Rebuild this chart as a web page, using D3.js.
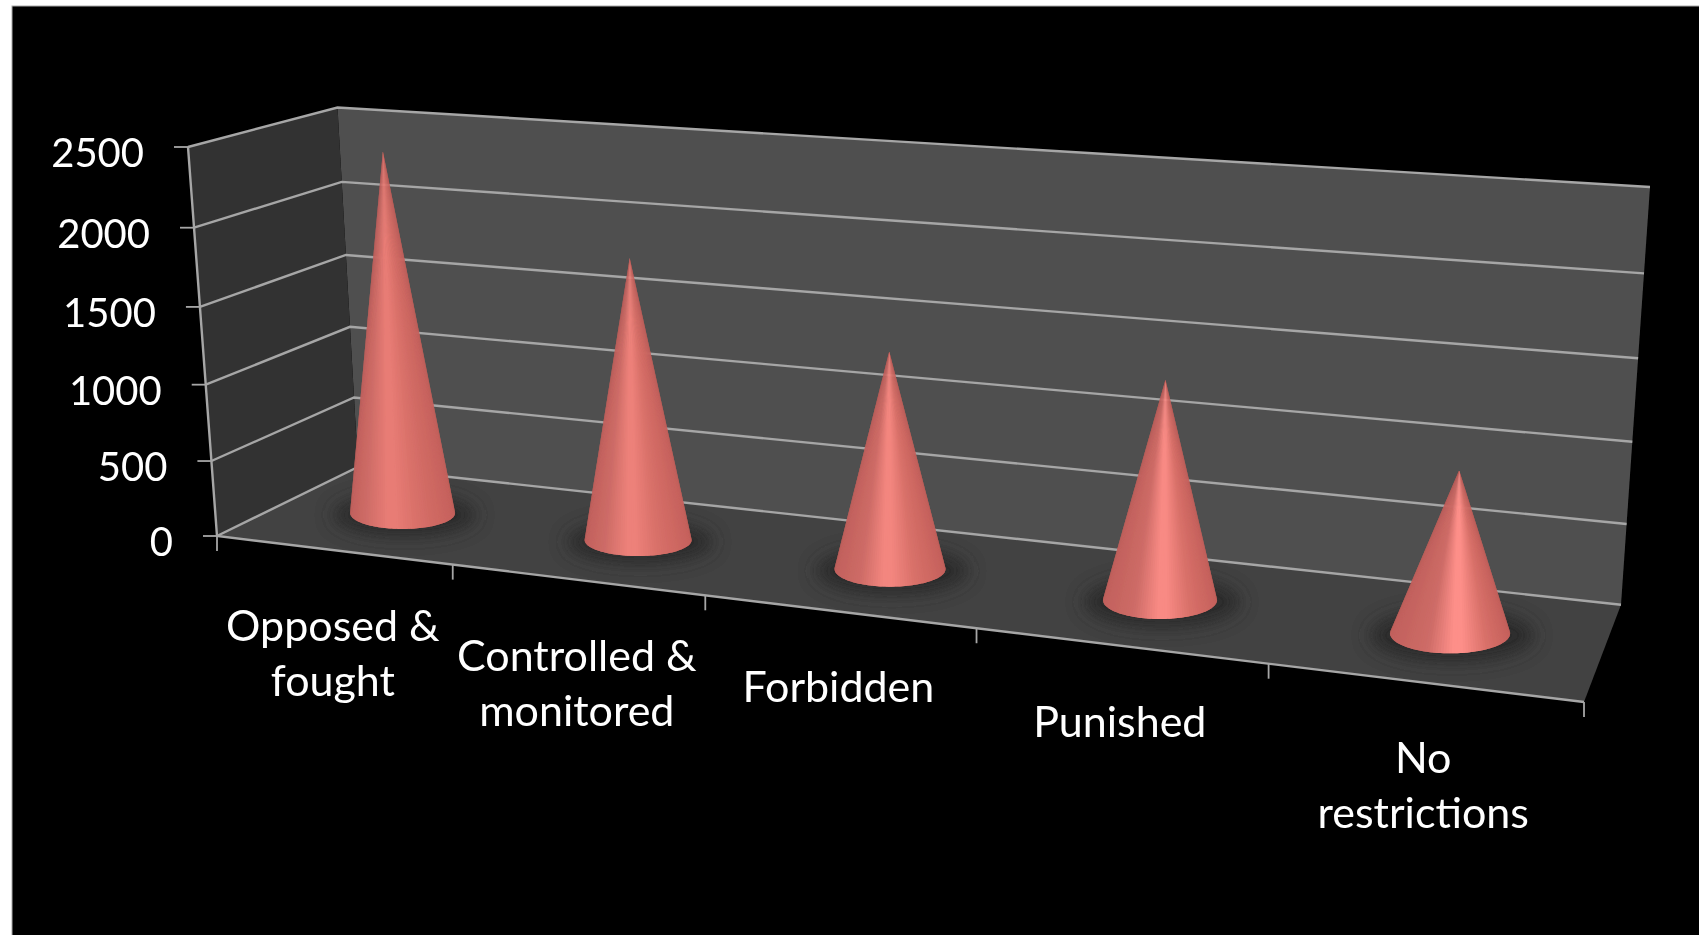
<!DOCTYPE html>
<html>
<head>
<meta charset="utf-8">
<style>
  html, body { margin: 0; padding: 0; background: #fff; overflow: hidden; }
  text { font-family: Lato, "Open Sans", sans-serif; fill: #fff; }
</style>
<script src="https://cdn.jsdelivr.net/npm/d3@7"></script>
</head>
<body>
<script>
const categories = ["Opposed & fought", "Controlled & monitored", "Forbidden", "Punished", "No restrictions"];
const categoryLines = [["Opposed &", "fought"], ["Controlled &", "monitored"], ["Forbidden"], ["Punished"], ["No", "restrictions"]];
const values = [2385, 1820, 1370, 1345, 970];
const valueTicks = [0, 500, 1000, 1500, 2000, 2500];

const width = 1699;
const height = 935;

// corners of the box as it is seen on the picture
const frontBottomLeft = [217, 536];
const frontBottomRight = [1584, 702];
const frontTopLeft = [188, 147];
const frontTopRight = [1618, 240];
const backBottomLeft = [358, 467];
const backBottomRight = [1621, 604.8];
const backTopLeft = [337.5, 107.5];
const backTopRight = [1650, 187];

// maps the unit square onto four picture points
function homography(p0, p1, p2, p3) {
  const dx1 = p1[0] - p2[0], dx2 = p3[0] - p2[0], sx = p0[0] - p1[0] + p2[0] - p3[0];
  const dy1 = p1[1] - p2[1], dy2 = p3[1] - p2[1], sy = p0[1] - p1[1] + p2[1] - p3[1];
  const den = dx1 * dy2 - dx2 * dy1;
  const g = (sx * dy2 - dx2 * sy) / den;
  const h = (dx1 * sy - sx * dy1) / den;
  const a = p1[0] - p0[0] + g * p1[0], b = p3[0] - p0[0] + h * p3[0];
  const d = p1[1] - p0[1] + g * p1[1], e = p3[1] - p0[1] + h * p3[1];
  return (u, v) => {
    const w = g * u + h * v + 1;
    return [(a * u + b * v + p0[0]) / w, (d * u + e * v + p0[1]) / w];
  };
}

const backWall = homography(backBottomLeft, backBottomRight, backTopRight, backTopLeft);
const frontPlane = homography(frontBottomLeft, frontBottomRight, frontTopRight, frontTopLeft);
const sideWall = homography(frontBottomLeft, backBottomLeft, backTopLeft, frontTopLeft);
const floor = homography(frontBottomLeft, frontBottomRight, backBottomRight, backBottomLeft);

const x = d3.scaleBand().domain(categories).range([0, 1]);
const y = d3.scaleLinear().domain([0, 2500]).range([0, 1]);

const radiusX = d3.scaleLinear().domain([0, 1, 2, 3, 4]).range([52.5, 53.5, 55.5, 57, 60]);
const radiusY = d3.scaleLinear().domain([0, 1, 2, 3, 4]).range([16, 16, 17.7, 19, 20]);
const peakPos = d3.scaleLinear().domain([0, 4]).range([0.4, 0.56]);
const peakColor = d3.scaleLinear().domain([0, 4]).range(["#e87c75", "#fd8f89"]);

const line = d3.line();

const svg = d3.select("body").append("svg")
  .attr("width", width)
  .attr("height", height)
  .style("display", "block");

const defs = svg.append("defs");
defs.append("filter").attr("id", "shadowBlur")
  .attr("x", "-50%").attr("y", "-100%").attr("width", "200%").attr("height", "300%")
  .append("feGaussianBlur").attr("stdDeviation", 9);
defs.append("filter").attr("id", "soft")
  .append("feGaussianBlur").attr("stdDeviation", 0.5);
defs.append("clipPath").attr("id", "floorClip")
  .append("path")
  .attr("d", line([frontBottomLeft, frontBottomRight, backBottomRight, backBottomLeft]) + "Z");

svg.append("rect")
  .attr("x", 12).attr("y", 6)
  .attr("width", width).attr("height", height)
  .attr("fill", "#000")
  .attr("stroke", "#aaa");

const chart = svg.append("g").attr("filter", "url(#soft)");

chart.append("path")
  .attr("d", line([backBottomLeft, backBottomRight, backTopRight, backTopLeft]) + "Z")
  .attr("fill", "#505050");
chart.append("path")
  .attr("d", line([frontBottomLeft, backBottomLeft, backTopLeft, frontTopLeft]) + "Z")
  .attr("fill", "#333333");
chart.append("path")
  .attr("d", line([frontBottomLeft, frontBottomRight, backBottomRight, backBottomLeft]) + "Z")
  .attr("fill", "#424242");

// gridlines run along the side wall and then along the back wall
chart.selectAll(".grid")
  .data(valueTicks)
  .join("path")
  .attr("class", "grid")
  .attr("d", (d) => line([sideWall(0, y(d)), sideWall(1, y(d)), backWall(1, y(d))]))
  .attr("fill", "none")
  .attr("stroke", "#a6a6a6")
  .attr("stroke-width", 2.4);

// front edge of the side wall and of the floor
chart.append("path")
  .attr("d", line([frontTopLeft, frontBottomLeft, frontBottomRight]))
  .attr("fill", "none")
  .attr("stroke", "#a6a6a6")
  .attr("stroke-width", 2.4);

// value ticks and labels
chart.selectAll(".vtick")
  .data(valueTicks)
  .join("line")
  .attr("class", "vtick")
  .attr("x1", (d) => sideWall(0, y(d))[0] - 14)
  .attr("x2", (d) => sideWall(0, y(d))[0])
  .attr("y1", (d) => sideWall(0, y(d))[1])
  .attr("y2", (d) => sideWall(0, y(d))[1])
  .attr("stroke", "#a6a6a6")
  .attr("stroke-width", 1.8);

chart.selectAll(".vlabel")
  .data(valueTicks)
  .join("text")
  .attr("class", "vlabel")
  .attr("x", (d) => sideWall(0, y(d))[0] - 44)
  .attr("y", (d) => sideWall(0, y(d))[1] + 20)
  .attr("text-anchor", "end")
  .attr("font-size", 40)
  .text((d) => d);

// category ticks: one at each band edge of the front edge
const bandEdges = categories.map((c) => x(c)).concat([1]);
chart.selectAll(".ctick")
  .data(bandEdges)
  .join("line")
  .attr("class", "ctick")
  .attr("x1", (d) => floor(d, 0)[0])
  .attr("x2", (d) => floor(d, 0)[0])
  .attr("y1", (d) => floor(d, 0)[1])
  .attr("y2", (d) => floor(d, 0)[1] + 15)
  .attr("stroke", "#a6a6a6")
  .attr("stroke-width", 1.8);

// cones
const cones = values.map((v, i) => {
  const t = x(categories[i]) + x.bandwidth() / 2;
  const fb = frontPlane(t, 0), ft = frontPlane(t, y(v));
  const bb = backWall(t, 0), bt = backWall(t, y(v));
  const [cx, cy] = floor(t, 0.5);
  const apex = [
    cx + ((ft[0] - fb[0]) + (bt[0] - bb[0])) / 2,
    cy + ((ft[1] - fb[1]) + (bt[1] - bb[1])) / 2,
  ];
  return { i, cx, cy, apex, rx: radiusX(i), ry: radiusY(i) };
});

chart.append("g")
  .attr("clip-path", "url(#floorClip)")
  .selectAll("ellipse")
  .data(cones)
  .join("ellipse")
  .attr("cx", (d) => d.cx + 2)
  .attr("cy", (d) => d.cy + 2)
  .attr("rx", (d) => d.rx * 1.38)
  .attr("ry", (d) => d.ry * 1.35)
  .attr("fill", "#2a2a2a")
  .attr("filter", "url(#shadowBlur)");

const coneG = chart.selectAll(".cone")
  .data(cones)
  .join("g")
  .attr("class", "cone");

coneG.each(function (d) {
  const ax = (d.apex[0] - d.cx) / d.rx;
  const ay = (d.apex[1] - d.cy) / d.ry;
  const phi = Math.atan2(ay, ax);
  const spread = Math.acos(1 / Math.hypot(ax, ay));
  const start = phi + spread;
  const end = phi - spread + 2 * Math.PI;
  const steps = 72;
  const pts = d3.range(steps + 1).map((k) => {
    const a = start + ((end - start) * k) / steps;
    return [d.cx + d.rx * Math.cos(a), d.cy + d.ry * Math.sin(a)];
  });
  const [minX, maxX] = d3.extent(pts, (p) => p[0]);
  const pk = peakPos(d.i);
  const shade = d3.scaleLinear()
    .domain([0, pk - 0.25, pk - 0.04, pk + 0.04, pk + 0.25, 1])
    .range(["#c2615d", "#ce6c67", peakColor(d.i), peakColor(d.i), "#d87069", "#c5615c"]);
  // each slice overlaps the next one so no seams show
  const slices = d3.range(steps).map((k) => ({
    p0: pts[k],
    p1: pts[k + 1],
    p2: pts[Math.min(k + 2, steps)],
  }));
  d3.select(this).selectAll("path")
    .data(slices)
    .join("path")
    .attr("d", (s) => line([d.apex, s.p0, s.p1, s.p2]) + "Z")
    .attr("fill", (s) => shade(((s.p0[0] + s.p1[0]) / 2 - minX) / (maxX - minX)));
});

// category labels hang below the middle of each band
chart.selectAll(".clabel")
  .data(categories)
  .join("text")
  .attr("class", "clabel")
  .attr("text-anchor", "middle")
  .attr("font-size", 43)
  .each(function (d, i) {
    const p = floor(x(d) + x.bandwidth() / 2, 0);
    d3.select(this).selectAll("tspan")
      .data(categoryLines[i])
      .join("tspan")
      .attr("x", p[0])
      .attr("y", (l, k) => p[1] + 91 + k * 55)
      .text((l) => l);
  });
</script>
</body>
</html>
